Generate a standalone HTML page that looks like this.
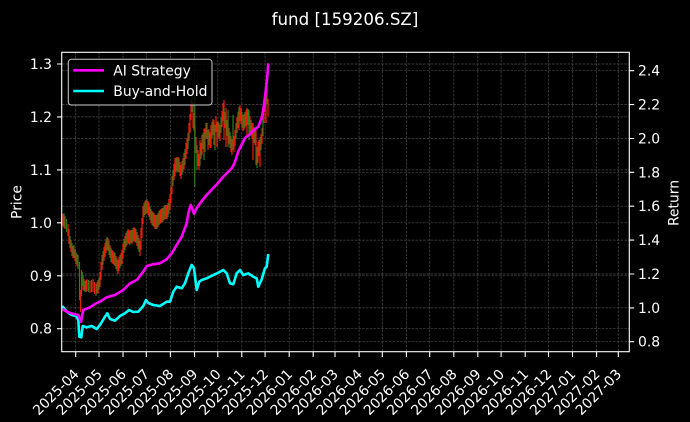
<!DOCTYPE html>
<html><head><meta charset="utf-8"><style>
html,body{margin:0;padding:0;background:#000;}
svg{display:block;}
text{font-family:"DejaVu Sans","Liberation Sans",sans-serif;fill:#fff;}
</style></head><body>
<svg width="690" height="422" viewBox="0 0 690 422" xmlns="http://www.w3.org/2000/svg">
<rect width="690" height="422" fill="#000"/>
<text x="345" y="25" font-size="16.67" text-anchor="middle">fund [159206.SZ]</text>

<!-- grid -->
<g stroke="#4a4a4a" stroke-width="0.7" stroke-dasharray="2.6 1.2" fill="none">
<path d="M75.7,52V352M99,52V352M123,52V352M146.3,52V352M170.4,52V352M194.5,52V352M217.8,52V352M241.8,52V352M265.1,52V352M289.2,52V352M313.2,52V352M335,52V352M359.1,52V352M382.3,52V352M406.4,52V352M429.7,52V352M453.8,52V352M477.8,52V352M501.1,52V352M525.2,52V352M548.5,52V352M572.5,52V352M596.6,52V352M618.3,52V352"/>
<path d="M62,64H629M62,116.9H629M62,169.9H629M62,222.8H629M62,275.8H629M62,328.7H629"/>
<path d="M62,70.7H629M62,104.6H629M62,138.5H629M62,172.3H629M62,206.2H629M62,240.1H629M62,274H629M62,307.9H629M62,341.7H629"/>
</g>

<!-- candles -->
<g fill="none" stroke-width="1.2">
<path stroke="#e8200a" d="M63,214V226M65,216V229M68,224V236M69,229V244M71,240V252M73,246V258M75,249V261M77,254V266M80.5,290V312M81.5,270V296M83,275V290M84,279V291M86,280V292M87,279V291M90,281V293M93,279V292M94.5,282V294M97,282V294M98,280V293M100,272V287M101,262V280M102,255V270M104,247V261M105,243V257M106,239V253M108,238V251M110,245V258M112,250V263M113,251V264M115,253V266M116,256V269M118,260V274M119,257V271M121,253V266M122,250V264M123,244V258M125,236V250M126,233V247M128,229V243M129,230V244M131,230V243M132,230V244M134,227V241M135,228V242M137,232V246M138,235V249M140,241V256M141,228V250M142,218V238M143,206V224M145,201V215M146,200V214M148,201V215M149,203V217M151,209V223M152,211V225M154,213V227M155,215V229M157,215V229M158,213V227M160,210V224M161,209V223M163,208V222M164,206V220M166,205V219M167,205V219M169,199V214M170,194V210M171,187V203M172,176V194M174,164V180M175,158V176M177,157V171M178,157V172M180,162V176M181,165V179M183,158V172M184,153V169M186,143V159M187,138V154M189,123V141M190,114V133M191,100V120M193,102V128M194,113V131M196,137V153M198,150V166M199,154V170M200,140V157M201,143V159M202,135V155M204,129V145M205,128V152M207,123V139M208,130V150M210,132V148M211,125V148M213,119V135M214,120V145M216,116V132M217,122V147M219,123V139M220,125V141M222,111V127M223,103V121M224,100V140M225,112V128M226,108V147M228,124V140M229,128V144M231,136V152M232,139V155M234,136V152M235,130V146M237,117V133M238,112V128M239,107V130M240,105V121M241,108V124M243,115V131M244,114V130M246,110V126M247,108V138M249,112V128M250,116V132M252,123V139M253,123V160M255,129V145M256,130V165M258,142V163M259,140V156M260,140V167M261,134V150M262,128V144M264,105V123M265,94V112M266,100V123M267,88V104M268,99V116"/>
<path stroke="#2a7f18" d="M64,213V228M66.5,219V232M70,236V248M72,243V256M74,245V258M76,252V264M78,255V269M79.5,262V300M82.3,272V286M85,281V292M88.5,280V292M91.5,280V292M96,284V296M99,278V290M103,251V265M107,237V250M109,241V255M111,248V262M114,252V265M117,258V271M120,255V268M124,239V253M127,231V245M130,231V245M133,228V242M136,229V243M139,238V252M144,203V217M147,199V213M150,206V220M153,212V226M156,215V229M159,211V225M162,208V222M165,205V219M168,203V217M173,170V186M176,158V172M179,158V172M182,161V175M185,149V165M188,133V149M192,90V112M194.8,95V187M195,126V144M197,145V170M200,151V166M203,133V149M204,133V160M206,123V139M209,129V145M212,122V138M215,125V150M218,121V137M221,117V133M224,108V124M227,120V136M228,110V147M230,132V148M233,115V150M236,123V139M239,108V124M242,112V128M245,112V128M248,109V125M249,110V140M251,120V136M254,127V143M257,147V168M260,137V153M263,118V136M266,89V106"/>
</g>

<!-- strategy lines -->
<polyline fill="none" stroke="#00ffff" stroke-width="2.6" stroke-linejoin="round" points="62.3,306 66.7,311.7 71.7,315 76,316 78.3,320 79.3,336.7 81.3,337.3 82.7,326 86.7,327.3 91.7,326 96.7,329 100,325 105,316.7 107.3,313.3 110,319 115,320.7 120,316 125,313.3 129,310 133.3,312 138.3,311.7 143.3,306 146,300 148.3,303 153.3,305 160,306 166.7,301.7 170,301.7 173.3,291.7 176.7,286.7 181.7,288.3 185,283.3 188.3,273.3 191.7,265 194,268.3 196.7,290 199.3,281.7 201.7,280 206.7,278.3 213.3,275 218.3,272.7 223.3,270 226.7,273.3 230,283.3 233.3,284.3 236.7,273.3 240,270 243.3,275 248.3,273.3 253.3,276.7 256.7,278.3 258.3,286.7 261.7,279.3 265,268.3 266.7,266.7 268.3,254"/>
<polyline fill="none" stroke="#ff00ff" stroke-width="2.6" stroke-linejoin="round" points="62.5,309 66.7,311.7 72,313.5 78.3,315 81,321.7 83.3,310 90,307.3 95,304 100,301.7 106.7,297.3 115,295 123.3,290 130,283.3 136.7,280 143.3,271.7 146.7,266 153.3,264.3 160,263.3 166.7,259.3 171.7,253.3 176.7,245 181.7,236.7 186.7,223.3 188.3,213.3 190.7,205 192,208 194,214 196.7,208.3 200,203.3 206.7,195 213.3,188 218,183 223,177 228,172 232,168 235,162 238,152 241,146 245,138 249,135 252,131.7 256,128.5 258.3,126.7 261.7,118 263.3,110 265,96.7 267,80 268.3,63.3"/>

<!-- spines -->
<rect x="61.7" y="52.3" width="567.6" height="299.4" fill="none" stroke="#fff" stroke-width="1.1"/>

<!-- ticks -->
<g stroke="#fff" stroke-width="1.1">
<path d="M57,64H61.7M57,116.9H61.7M57,169.9H61.7M57,222.8H61.7M57,275.8H61.7M57,328.7H61.7"/>
<path d="M629.3,70.7H634.2M629.3,104.6H634.2M629.3,138.5H634.2M629.3,172.3H634.2M629.3,206.2H634.2M629.3,240.1H634.2M629.3,274H634.2M629.3,307.9H634.2M629.3,341.7H634.2"/>
<path d="M75.7,352V357M99,352V357M123,352V357M146.3,352V357M170.4,352V357M194.5,352V357M217.8,352V357M241.8,352V357M265.1,352V357M289.2,352V357M313.2,352V357M335,352V357M359.1,352V357M382.3,352V357M406.4,352V357M429.7,352V357M453.8,352V357M477.8,352V357M501.1,352V357M525.2,352V357M548.5,352V357M572.5,352V357M596.6,352V357M618.3,352V357"/>
</g>

<!-- left tick labels -->
<g font-size="13.9" text-anchor="end">
<text x="52" y="69">1.3</text>
<text x="52" y="121.9">1.2</text>
<text x="52" y="174.9">1.1</text>
<text x="52" y="227.8">1.0</text>
<text x="52" y="280.8">0.9</text>
<text x="52" y="333.7">0.8</text>
</g>
<!-- right tick labels -->
<g font-size="13.9">
<text x="638" y="75.7">2.4</text>
<text x="638" y="109.6">2.2</text>
<text x="638" y="143.5">2.0</text>
<text x="638" y="177.3">1.8</text>
<text x="638" y="211.2">1.6</text>
<text x="638" y="245.1">1.4</text>
<text x="638" y="279">1.2</text>
<text x="638" y="312.9">1.0</text>
<text x="638" y="346.7">0.8</text>
</g>

<text font-size="13.9" text-anchor="middle" transform="translate(21.7,202) rotate(-90)">Price</text>
<text font-size="13.9" text-anchor="middle" transform="translate(678.3,203) rotate(-90)">Return</text>

<!-- x tick labels -->
<g font-size="13.9" text-anchor="end">
<text transform="translate(79.7,375) rotate(-45)">2025-04</text>
<text transform="translate(103,375) rotate(-45)">2025-05</text>
<text transform="translate(127,375) rotate(-45)">2025-06</text>
<text transform="translate(150.3,375) rotate(-45)">2025-07</text>
<text transform="translate(174.4,375) rotate(-45)">2025-08</text>
<text transform="translate(198.5,375) rotate(-45)">2025-09</text>
<text transform="translate(221.8,375) rotate(-45)">2025-10</text>
<text transform="translate(245.8,375) rotate(-45)">2025-11</text>
<text transform="translate(269.1,375) rotate(-45)">2025-12</text>
<text transform="translate(293.2,375) rotate(-45)">2026-01</text>
<text transform="translate(317.2,375) rotate(-45)">2026-02</text>
<text transform="translate(339,375) rotate(-45)">2026-03</text>
<text transform="translate(363.1,375) rotate(-45)">2026-04</text>
<text transform="translate(386.3,375) rotate(-45)">2026-05</text>
<text transform="translate(410.4,375) rotate(-45)">2026-06</text>
<text transform="translate(433.7,375) rotate(-45)">2026-07</text>
<text transform="translate(457.8,375) rotate(-45)">2026-08</text>
<text transform="translate(481.8,375) rotate(-45)">2026-09</text>
<text transform="translate(505.1,375) rotate(-45)">2026-10</text>
<text transform="translate(529.2,375) rotate(-45)">2026-11</text>
<text transform="translate(552.5,375) rotate(-45)">2026-12</text>
<text transform="translate(576.5,375) rotate(-45)">2027-01</text>
<text transform="translate(600.6,375) rotate(-45)">2027-02</text>
<text transform="translate(622.3,375) rotate(-45)">2027-03</text>
</g>

<!-- legend -->
<rect x="68.3" y="59.3" width="143.7" height="45.7" rx="3" fill="#000" fill-opacity="0.8" stroke="#cccccc" stroke-width="1"/>
<line x1="73.3" y1="70.3" x2="104" y2="70.3" stroke="#ff00ff" stroke-width="2.6"/>
<line x1="73.3" y1="91" x2="104" y2="91" stroke="#00ffff" stroke-width="2.6"/>
<text x="113.3" y="75.3" font-size="13.9">AI Strategy</text>
<text x="113.3" y="96" font-size="13.9">Buy-and-Hold</text>
</svg>
</body></html>
